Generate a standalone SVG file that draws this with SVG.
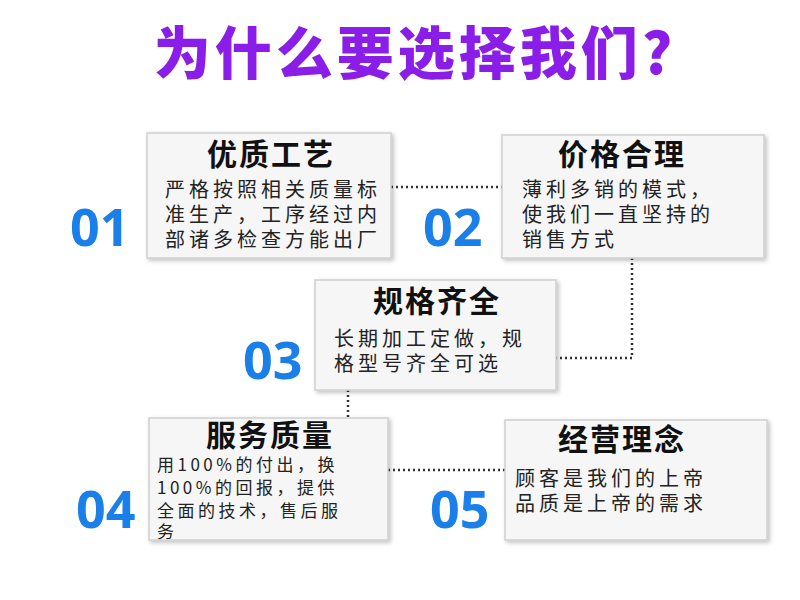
<svg xmlns="http://www.w3.org/2000/svg" width="800" height="600" viewBox="0 0 800 600">
<style>
.box{fill:#f6f6f6;stroke:#d0d0d0;stroke-width:1.5}
.h{font-family:"Noto Sans CJK SC",sans-serif;font-weight:bold;font-size:30px;fill:#111;text-anchor:middle;letter-spacing:2px}
.t{font-family:"Noto Sans CJK SC",sans-serif;font-size:20px;fill:#222;letter-spacing:4px}
.s{font-family:"Noto Sans CJK SC",sans-serif;font-size:17px;fill:#222;letter-spacing:3.5px}
.n{font-family:"Open Sans","Liberation Sans",sans-serif;font-weight:bold;font-size:52px;fill:#1a7fe8}
.c{fill:none;stroke:#333;stroke-width:2.5;stroke-dasharray:2 3}
</style>
<defs><filter id="s" x="-5%" y="-5%" width="115%" height="120%"><feDropShadow dx="2" dy="2" stdDeviation="2" flood-color="#000" flood-opacity="0.25"/></filter></defs>
<rect width="800" height="600" fill="#fff"/>
<text x="415" y="74" text-anchor="middle" font-family="Noto Sans CJK SC,sans-serif" font-weight="900" font-size="57" letter-spacing="4" fill="#8a1ee8">为什么要选择我们?</text>
<g id="connectors">
<path class="c" d="M391 187H502"/>
<path class="c" d="M632 258V358H556"/>
<path class="c" d="M348 390V418"/>
<path class="c" d="M388 470H505"/>
</g>
<g id="n1"><rect class="box" filter="url(#s)" x="147" y="133" width="244" height="125"/>
<text class="h" x="271" y="165">优质工艺</text>
<text class="t" x="165" y="197">严格按照相关质量标</text><text class="t" x="165" y="222">准生产，工序经过内</text><text class="t" x="165" y="247">部诸多检查方能出厂</text>
<text class="n" x="70" y="246">01</text></g>
<g id="n2"><rect class="box" filter="url(#s)" x="502" y="135" width="262" height="123"/>
<text class="h" x="622" y="165">价格合理</text>
<text class="t" x="522" y="197">薄利多销的模式，</text><text class="t" x="522" y="222">使我们一直坚持的</text><text class="t" x="522" y="247">销售方式</text>
<text class="n" x="423" y="246">02</text></g>
<g id="n3"><rect class="box" filter="url(#s)" x="315" y="280" width="241" height="110"/>
<text class="h" x="437" y="312">规格齐全</text>
<text class="t" x="334" y="346">长期加工定做，规</text><text class="t" x="334" y="371">格型号齐全可选</text>
<text class="n" x="243" y="379">03</text></g>
<g id="n4"><rect class="box" filter="url(#s)" x="149" y="418" width="239" height="122"/>
<text class="h" x="270" y="446">服务质量</text>
<text class="s" x="157" y="471">用100%的付出，换</text><text class="s" x="157" y="494">100%的回报，提供</text><text class="s" x="157" y="517">全面的技术，售后服</text><text class="s" x="157" y="538" font-size="15">务</text>
<text class="n" x="76" y="528">04</text></g>
<g id="n5"><rect class="box" filter="url(#s)" x="505" y="420" width="262" height="120"/>
<text class="h" x="622" y="450">经营理念</text>
<text class="t" x="515" y="486">顾客是我们的上帝</text><text class="t" x="515" y="511">品质是上帝的需求</text>
<text class="n" x="430" y="528">05</text></g>
</svg>
